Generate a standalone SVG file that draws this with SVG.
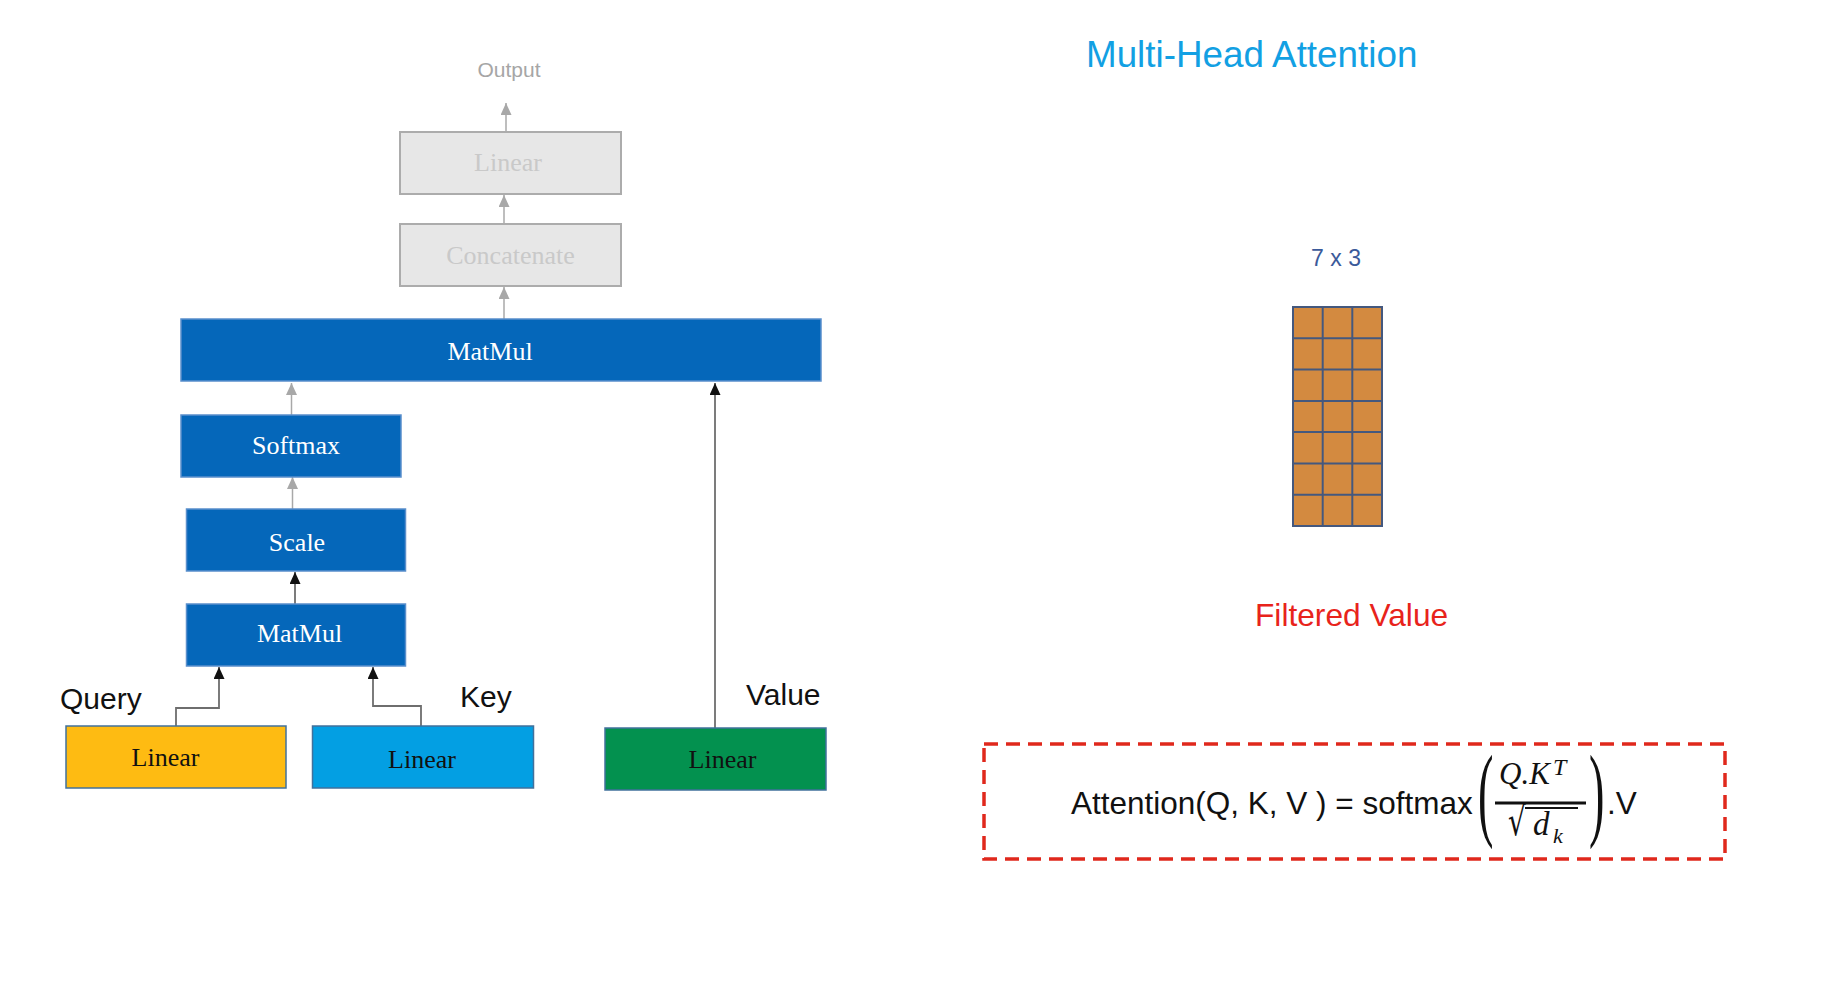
<svg xmlns="http://www.w3.org/2000/svg" width="1827" height="1005" viewBox="0 0 1827 1005">
<defs>
<style>
.blue{fill:#0567BA;stroke:#5a8fcc;stroke-width:1.5}
.grey{fill:#e7e7e7;stroke:#acacac;stroke-width:2}
.lin{stroke:#41719C;stroke-width:1.5}
.tb{font-family:"Liberation Serif",serif;font-size:26px;text-anchor:middle}
.w{fill:#ffffff}
.k{fill:#111111}
.g{fill:#c9c9c9}
.lbl{font-family:"Liberation Sans",Arial,sans-serif;font-size:30px;fill:#111111}
.ga{stroke:#a8a8a8;stroke-width:1.5;fill:none}
.da{stroke:#6e6e6e;stroke-width:1.8;fill:none}
.math{font-family:"Liberation Serif",serif;font-style:italic;fill:#111111}
</style>
<marker id="ag" markerUnits="userSpaceOnUse" markerWidth="12" markerHeight="11" viewBox="0 0 12 11" refX="12" refY="5.5" orient="auto">
<path d="M0,0 L12,5.5 L0,11 Z" fill="#a8a8a8"/>
</marker>
<marker id="ab" markerUnits="userSpaceOnUse" markerWidth="12" markerHeight="11" viewBox="0 0 12 11" refX="12" refY="5.5" orient="auto">
<path d="M0,0 L12,5.5 L0,11 Z" fill="#111111"/>
</marker>
</defs>
<rect width="1827" height="1005" fill="#ffffff"/>

<g id="connectors">
<line class="ga" x1="506" y1="132" x2="506" y2="103" marker-end="url(#ag)"/>
<line class="ga" x1="504" y1="224" x2="504" y2="195" marker-end="url(#ag)"/>
<line class="ga" x1="504" y1="319" x2="504" y2="287" marker-end="url(#ag)"/>
<line class="ga" x1="291.5" y1="415" x2="291.5" y2="383" marker-end="url(#ag)"/>
<line class="ga" x1="292.5" y1="509" x2="292.5" y2="477" marker-end="url(#ag)"/>
<line class="da" x1="295" y1="604" x2="295" y2="572" marker-end="url(#ab)"/>
<polyline class="da" points="176,726 176,708 219,708 219,667" marker-end="url(#ab)"/>
<polyline class="da" points="421,726 421,706 373,706 373,667" marker-end="url(#ab)"/>
<line class="da" x1="715" y1="728" x2="715" y2="383" marker-end="url(#ab)"/>
</g>

<g id="output">
<text x="509" y="77" font-family="'Liberation Sans',Arial,sans-serif" font-size="21" fill="#a6a6a6" text-anchor="middle">Output</text>
</g>
<g id="linear-out">
<rect class="grey" x="400" y="132" width="221" height="62"/>
<text class="tb g" x="508" y="171">Linear</text>
</g>
<g id="concatenate">
<rect class="grey" x="400" y="224" width="221" height="62"/>
<text class="tb g" x="510.5" y="264">Concatenate</text>
</g>
<g id="matmul-top">
<rect class="blue" x="181" y="319" width="640" height="62"/>
<text class="tb w" x="490" y="360">MatMul</text>
</g>
<g id="softmax">
<rect class="blue" x="181" y="415" width="220" height="62"/>
<text class="tb w" x="296" y="454">Softmax</text>
</g>
<g id="scale">
<rect class="blue" x="186.5" y="509" width="219" height="62"/>
<text class="tb w" x="297" y="551">Scale</text>
</g>
<g id="matmul-bottom">
<rect class="blue" x="186.5" y="604" width="219" height="62"/>
<text class="tb w" x="299.5" y="642">MatMul</text>
</g>
<g id="query">
<text class="lbl" x="60" y="709">Query</text>
<rect class="lin" x="66" y="726" width="220" height="62" fill="#FEBB12"/>
<text class="tb k" x="165.5" y="766">Linear</text>
</g>
<g id="key">
<text class="lbl" x="460" y="707">Key</text>
<rect class="lin" x="312.5" y="726" width="221" height="62" fill="#039FE3"/>
<text class="tb k" x="422" y="768">Linear</text>
</g>
<g id="value">
<text class="lbl" x="746" y="705">Value</text>
<rect class="lin" x="605" y="728" width="221" height="62" fill="#03914F"/>
<text class="tb k" x="722.5" y="768">Linear</text>
</g>

<g id="title">
<text x="1086" y="67" font-family="'Liberation Sans',Arial,sans-serif" font-size="36.8" fill="#12A0E3">Multi-Head Attention</text>
</g>
<g id="matrix">
<text x="1336" y="266" font-family="'Liberation Sans',Arial,sans-serif" font-size="23" fill="#3B5A9A" text-anchor="middle">7 x 3</text>
<rect x="1293" y="307" width="89" height="219" fill="#D38A40" stroke="#44587E" stroke-width="2"/>
<g stroke="#44587E" stroke-width="2">
<line x1="1322.7" y1="307" x2="1322.7" y2="526"/>
<line x1="1352.3" y1="307" x2="1352.3" y2="526"/>
<line x1="1293" y1="338.3" x2="1382" y2="338.3"/>
<line x1="1293" y1="369.6" x2="1382" y2="369.6"/>
<line x1="1293" y1="400.9" x2="1382" y2="400.9"/>
<line x1="1293" y1="432.1" x2="1382" y2="432.1"/>
<line x1="1293" y1="463.4" x2="1382" y2="463.4"/>
<line x1="1293" y1="494.7" x2="1382" y2="494.7"/>
</g>
</g>
<g id="filtered">
<text x="1255" y="626" font-family="'Liberation Sans',Arial,sans-serif" font-size="31.7" fill="#E8231B">Filtered Value</text>
</g>
<g id="formula">
<rect x="984" y="744" width="741" height="115" fill="none" stroke="#E0281C" stroke-width="3.5" stroke-dasharray="14 8"/>
<text x="1071" y="814" font-family="'Liberation Sans',Arial,sans-serif" font-size="31.5" fill="#111111">Attention(Q, K, V ) = softmax</text>
<text transform="translate(1478,827) scale(0.45,1)" font-family="'Liberation Serif',serif" font-size="103" fill="#111111">(</text>
<text transform="translate(1589,827) scale(0.45,1)" font-family="'Liberation Serif',serif" font-size="103" fill="#111111">)</text>
<text class="math" x="1499" y="784" font-size="31">Q.K</text>
<text class="math" x="1553" y="775" font-size="24">T</text>
<line x1="1495" y1="803" x2="1586" y2="803" stroke="#111111" stroke-width="3"/>
<text transform="translate(1508,835) scale(0.7,1)" font-family="'DejaVu Sans',sans-serif" font-size="40" fill="#111111">√</text>
<line x1="1525" y1="808" x2="1578" y2="808" stroke="#111111" stroke-width="2"/>
<text class="math" x="1533" y="835" font-size="33">d</text>
<text class="math" x="1553" y="843" font-size="22">k</text>
<text x="1607" y="814" font-family="'Liberation Sans',Arial,sans-serif" font-size="31.5" fill="#111111">.V</text>
</g>
</svg>
